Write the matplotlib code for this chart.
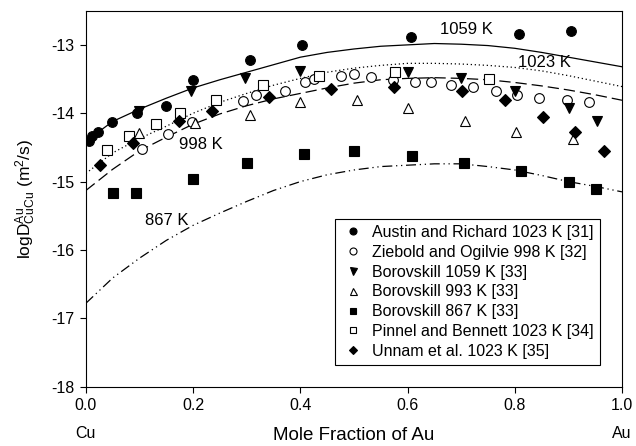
import matplotlib
matplotlib.use("Agg")
import matplotlib.pyplot as plt

plt.rcParams["font.family"] = ["Liberation Sans", "DejaVu Sans"]
plt.rcParams["mathtext.fontset"] = "custom"
plt.rcParams["mathtext.rm"] = "Liberation Sans"
plt.rcParams["mathtext.it"] = "Liberation Sans"
plt.rcParams["axes.unicode_minus"] = False

# ---------------------------------------------------
# measured diffusivities, log10(D) vs x_Au
# ---------------------------------------------------

austin_x = [0.005, 0.011, 0.023, 0.048, 0.096, 0.150, 0.200, 0.306, 0.404, 0.606, 0.808, 0.904]
austin_y = [-14.40, -14.34, -14.27, -14.13, -14.00, -13.89, -13.52, -13.22, -13.00, -12.89, -12.84, -12.80]

ziebold_x = [0.105, 0.153, 0.198, 0.293, 0.318, 0.372, 0.408, 0.425, 0.475, 0.500, 0.531,
             0.572, 0.614, 0.644, 0.681, 0.723, 0.765, 0.805, 0.846, 0.897, 0.939]
ziebold_y = [-14.53, -14.30, -14.13, -13.82, -13.74, -13.67, -13.55, -13.50, -13.45, -13.42, -13.47,
             -13.51, -13.54, -13.55, -13.59, -13.62, -13.67, -13.73, -13.77, -13.80, -13.83]

boro1059_x = [0.099, 0.196, 0.296, 0.399, 0.601, 0.699, 0.801, 0.902, 0.953]
boro1059_y = [-13.97, -13.67, -13.49, -13.38, -13.40, -13.48, -13.68, -13.93, -14.12]

boro993_x = [0.100, 0.203, 0.307, 0.400, 0.505, 0.601, 0.707, 0.802, 0.908]
boro993_y = [-14.29, -14.14, -14.03, -13.84, -13.80, -13.93, -14.11, -14.27, -14.38]

boro867_x = [0.050, 0.093, 0.200, 0.301, 0.407, 0.501, 0.608, 0.705, 0.811, 0.902, 0.951]
boro867_y = [-15.17, -15.16, -14.96, -14.73, -14.60, -14.55, -14.63, -14.73, -14.85, -15.01, -15.11]

pinnel_x = [0.040, 0.081, 0.131, 0.175, 0.243, 0.331, 0.435, 0.577, 0.751]
pinnel_y = [-14.54, -14.34, -14.16, -13.99, -13.81, -13.59, -13.45, -13.40, -13.50]

unnam_x = [0.027, 0.087, 0.173, 0.235, 0.342, 0.458, 0.575, 0.702, 0.781, 0.852, 0.912, 0.966]
unnam_y = [-14.75, -14.43, -14.12, -13.96, -13.76, -13.64, -13.62, -13.67, -13.80, -14.05, -14.28, -14.55]

# ---------------------------------------------------
# calculated curves
# ---------------------------------------------------

curve_x = [0.00, 0.05, 0.10, 0.15, 0.20, 0.25, 0.30, 0.35, 0.40, 0.45, 0.50,
           0.55, 0.60, 0.65, 0.70, 0.75, 0.80, 0.85, 0.90, 0.95, 1.00]

calc_1059 = [-14.41, -14.12, -13.94, -13.78, -13.63, -13.51, -13.40, -13.29, -13.18, -13.11, -13.06,
             -13.02, -13.00, -12.98, -12.99, -13.01, -13.05, -13.11, -13.18, -13.25, -13.32]
calc_1023 = [-14.88, -14.58, -14.37, -14.19, -14.00, -13.84, -13.71, -13.59, -13.49, -13.40, -13.34,
             -13.30, -13.27, -13.27, -13.28, -13.30, -13.33, -13.38, -13.45, -13.53, -13.61]
calc_998 = [-15.13, -14.82, -14.55, -14.35, -14.16, -14.01, -13.89, -13.79, -13.71, -13.63, -13.56,
            -13.51, -13.49, -13.48, -13.49, -13.51, -13.55, -13.60, -13.66, -13.73, -13.81]
calc_867 = [-16.78, -16.41, -16.12, -15.86, -15.64, -15.46, -15.29, -15.13, -15.00, -14.90, -14.83,
            -14.78, -14.76, -14.74, -14.74, -14.78, -14.83, -14.91, -15.00, -15.07, -15.15]

# ---------------------------------------------------
# PLOT
# ---------------------------------------------------

fig = plt.figure(figsize=(6.36, 4.46), dpi=100)
ax = fig.add_axes([0.135, 0.133, 0.843, 0.843])

lw = 0.9
ax.plot(curve_x, calc_1059, color="black", lw=lw, ls="-", zorder=2)
ax.plot(curve_x, calc_1023, color="black", lw=lw, ls=(0, (1, 2.2)), zorder=2)
ax.plot(curve_x, calc_998, color="black", lw=lw, ls=(0, (9, 4)), zorder=2)
ax.plot(curve_x, calc_867, color="black", lw=lw, ls=(0, (8, 3, 1, 3, 1, 3)), zorder=2)

mk = dict(ls="none", mec="black", mew=0.8, zorder=3)

ax.plot(austin_x, austin_y, marker="o", ms=7, mfc="black",
        label="Austin and Richard 1023 K [31]", **mk)
ax.plot(ziebold_x, ziebold_y, marker="o", ms=7, mfc="white",
        label="Ziebold and Ogilvie 998 K [32]", **mk)
ax.plot(boro1059_x, boro1059_y, marker="v", ms=7, mfc="black",
        label="Borovskill 1059 K [33]", **mk)
ax.plot(boro993_x, boro993_y, marker="^", ms=7, mfc="white",
        label="Borovskill 993 K [33]", **mk)
ax.plot(boro867_x, boro867_y, marker="s", ms=6.5, mfc="black",
        label="Borovskill 867 K [33]", **mk)
ax.plot(pinnel_x, pinnel_y, marker="s", ms=6.5, mfc="white",
        label="Pinnel and Bennett 1023 K [34]", **mk)
ax.plot(unnam_x, unnam_y, marker="D", ms=6, mfc="black",
        label="Unnam et al. 1023 K [35]", **mk)

# Curve labels
ax.text(0.71, -12.78, "1059 K", fontsize=12, ha="center", va="center")
ax.text(0.855, -13.26, "1023 K", fontsize=12, ha="center", va="center")
ax.text(0.214, -14.46, "998 K", fontsize=12, ha="center", va="center")
ax.text(0.151, -15.57, "867 K", fontsize=12, ha="center", va="center")

ax.set_xlim(0, 1.0)
ax.set_ylim(-18, -12.5)
ax.set_xticks([0.0, 0.2, 0.4, 0.6, 0.8, 1.0])
ax.set_xticklabels(["0.0", "0.2", "0.4", "0.6", "0.8", "1.0"])
ax.set_yticks([-18, -17, -16, -15, -14, -13])
ax.tick_params(direction="out", length=4, width=0.8, labelsize=11.5, pad=4)
for s in ax.spines.values():
    s.set_linewidth(0.8)

ax.set_xlabel("Mole Fraction of Au", fontsize=13.5, labelpad=10)
ax.set_ylabel(r"logD$^{\mathrm{Au}}_{\mathrm{CuCu}}$ (m$^{2}$/s)", fontsize=12.5, labelpad=10)

ax.text(0.0, -0.125, "Cu", transform=ax.transAxes, fontsize=11.5, ha="center", va="center")
ax.text(1.0, -0.125, "Au", transform=ax.transAxes, fontsize=11.5, ha="center", va="center")

leg = ax.legend(loc="lower right", bbox_to_anchor=(0.974, 0.036), fontsize=11.5,
                markerscale=0.72, frameon=True, fancybox=False, framealpha=1,
                edgecolor="black", handletextpad=0.5, labelspacing=0.3,
                borderpad=0.4, handlelength=1.4)
leg.get_frame().set_linewidth(0.8)

fig.savefig("out.png", dpi=100)
